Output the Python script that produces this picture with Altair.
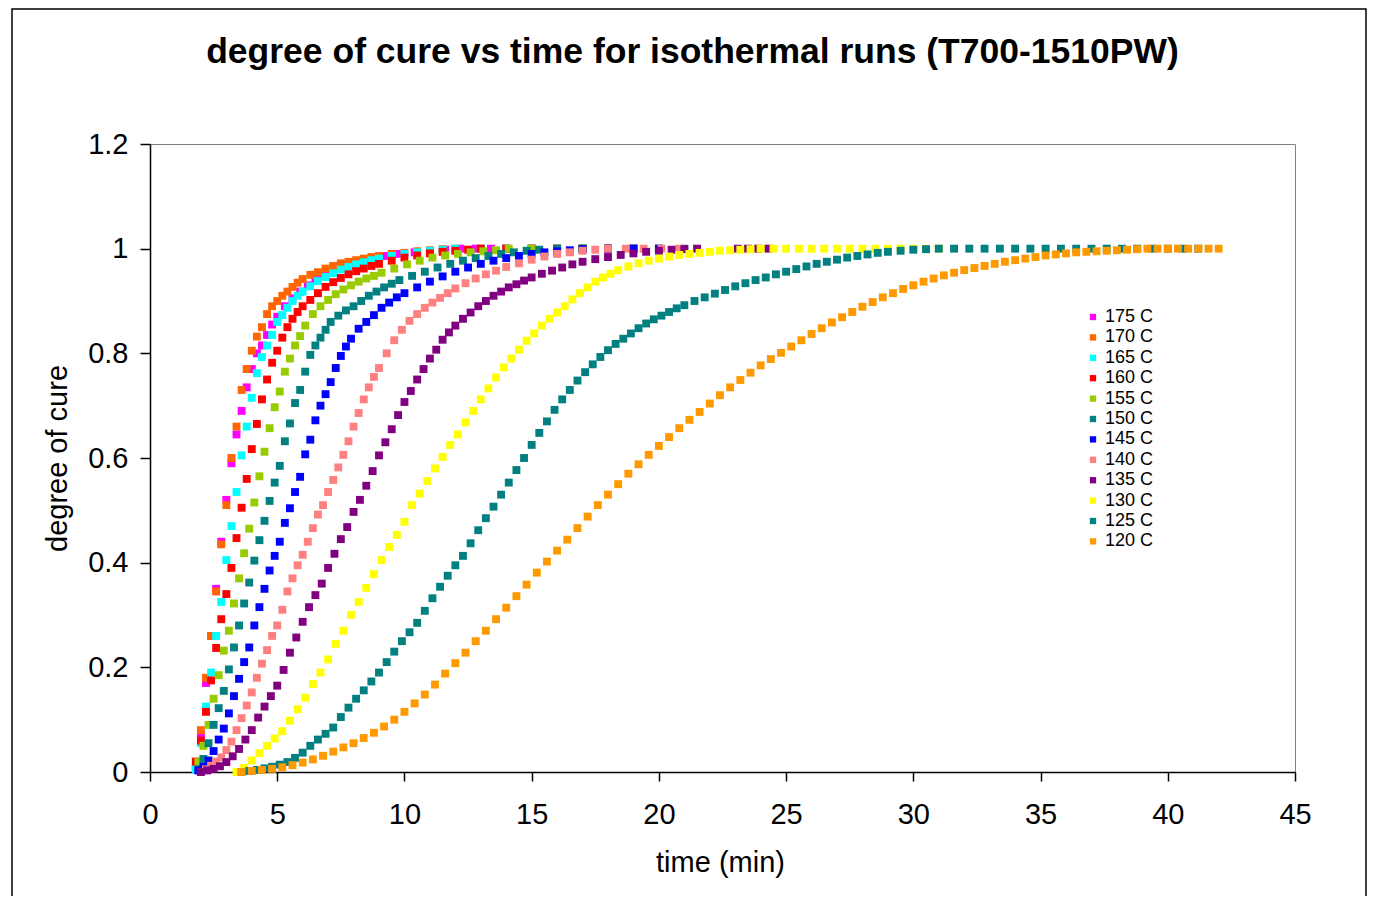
import altair as alt
import pandas as pd

TITLE = "degree of cure vs time for isothermal runs (T700-1510PW)"
X_TITLE = "time (min)"
Y_TITLE = "degree of cure"
X_TICKS = [0, 5, 10, 15, 20, 25, 30, 35, 40, 45]
Y_TICKS = [0, 0.2, 0.4, 0.6, 0.8, 1, 1.2]

SERIES = ["175 C", "170 C", "165 C", "160 C", "155 C", "150 C",
          "145 C", "140 C", "135 C", "130 C", "125 C", "120 C"]
COLORS = ["#FF00FF", "#FF6600", "#00FFFF", "#FF0000", "#99CC00", "#008080",
          "#0000FF", "#FF8080", "#800080", "#FFFF00", "#008080", "#FF9900"]

T175 = [1.8, 2.0, 2.2, 2.4, 2.6, 2.8, 3.0, 3.2, 3.4, 3.6, 3.8, 4.0, 4.2, 4.4, 4.6, 4.8, 5.0,
        5.3, 5.6, 5.9, 6.2, 6.5, 6.8, 7.1, 7.4, 7.7, 8.0,
        8.6, 9.2, 9.8, 10.4, 11.0, 11.6, 12.2, 12.8, 13.4, 14.0,
        15.0, 16.0, 17.0, 18.0]
Y175 = [0.005, 0.07, 0.17, 0.26, 0.35, 0.44, 0.52, 0.59, 0.645, 0.69, 0.735, 0.77, 0.80, 0.815, 0.835, 0.855, 0.87,
        0.89, 0.905, 0.918, 0.93, 0.94, 0.948, 0.955, 0.962, 0.968, 0.972,
        0.98, 0.986, 0.99, 0.993, 0.996, 0.998, 1.0, 1.0, 1.0, 1.0,
        1.0, 1.0, 1.0, 1.0]

T170 = [1.8, 2.0, 2.2, 2.4, 2.6, 2.8, 3.0, 3.2, 3.4, 3.6, 3.8, 4.0, 4.2, 4.4, 4.6, 4.8, 5.0, 5.2, 5.4, 5.6, 5.8, 6.0,
        6.3, 6.6, 6.9, 7.2, 7.5, 7.8, 8.1, 8.4, 8.7, 9.0,
        9.5, 10.0, 10.5, 11.0, 11.5, 12.0,
        13.0, 14.0, 15.0, 16.0, 17.0, 18.0, 19.0]
Y170 = [0.01, 0.08, 0.18, 0.26, 0.345, 0.435, 0.51, 0.6, 0.66, 0.73, 0.77, 0.805, 0.832, 0.85, 0.875, 0.89, 0.9, 0.91, 0.918, 0.927, 0.935, 0.942,
        0.95, 0.955, 0.962, 0.967, 0.972, 0.975, 0.978, 0.981, 0.984, 0.986,
        0.99, 0.992, 0.995, 0.997, 0.999, 1.0,
        1.0, 1.0, 1.0, 1.0, 1.0, 1.0, 1.0]

T165 = [1.8, 2.0, 2.2, 2.4, 2.6, 2.8, 3.0, 3.2, 3.4, 3.6, 3.8, 4.0, 4.2, 4.4, 4.6, 4.8, 5.0, 5.2, 5.4, 5.6, 5.8, 6.0,
        6.3, 6.6, 6.9, 7.2, 7.5, 7.8, 8.1, 8.4, 8.7, 9.0,
        9.5, 10.0, 10.5, 11.0, 11.5, 12.0,
        13.0, 14.0, 15.0, 16.0, 17.0, 18.0]
Y165 = [0.005, 0.055, 0.125, 0.19, 0.26, 0.325, 0.405, 0.47, 0.535, 0.605, 0.66, 0.715, 0.762, 0.793, 0.815, 0.835, 0.86, 0.873, 0.887, 0.9, 0.91, 0.918,
        0.928, 0.938, 0.946, 0.953, 0.96, 0.965, 0.97, 0.974, 0.978, 0.981,
        0.986, 0.99, 0.993, 0.996, 0.998, 1.0,
        1.0, 1.0, 1.0, 1.0, 1.0, 1.0]

T160 = [1.8, 2.0, 2.2, 2.4, 2.6, 2.8, 3.0, 3.2, 3.4, 3.6, 3.8, 4.0, 4.2, 4.4, 4.6, 4.8, 5.0, 5.2, 5.4, 5.6, 5.8, 6.0,
        6.3, 6.6, 6.9, 7.2, 7.5, 7.8, 8.1, 8.4, 8.7, 9.0,
        9.5, 10.0, 10.5, 11.0, 11.5, 12.0, 12.5, 13.0,
        14.0, 15.0, 16.0, 17.0, 18.0, 19.0]
Y160 = [0.02, 0.06, 0.115, 0.175, 0.237, 0.292, 0.34, 0.39, 0.447, 0.505, 0.56, 0.617, 0.665, 0.712, 0.75, 0.782, 0.805, 0.83, 0.85, 0.866, 0.879, 0.89,
        0.902, 0.915, 0.927, 0.936, 0.944, 0.951, 0.957, 0.962, 0.967, 0.971,
        0.977, 0.983, 0.987, 0.991, 0.994, 0.996, 0.998, 1.0,
        1.0, 1.0, 1.0, 1.0, 1.0, 1.0]

T155 = [1.9, 2.1, 2.3, 2.5, 2.7, 2.9, 3.1, 3.3, 3.5, 3.7, 3.9, 4.1, 4.3, 4.5, 4.7, 4.9, 5.1, 5.3, 5.5, 5.7, 5.9, 6.1,
        6.4, 6.7, 7.0, 7.3, 7.6, 7.9, 8.2, 8.5, 8.8, 9.1,
        9.6, 10.1, 10.6, 11.1, 11.6, 12.1, 12.6, 13.1, 13.6, 14.1,
        15.0, 16.0, 17.0, 18.0, 19.0, 20.0]
Y155 = [0.02, 0.05, 0.09, 0.14, 0.185, 0.232, 0.27, 0.322, 0.37, 0.418, 0.465, 0.515, 0.565, 0.612, 0.657, 0.697, 0.727, 0.765, 0.79, 0.815, 0.833, 0.853,
        0.875, 0.89, 0.902, 0.913, 0.922, 0.93, 0.937, 0.943, 0.948, 0.954,
        0.962, 0.97, 0.977, 0.983, 0.987, 0.99, 0.993, 0.995, 0.997, 1.0,
        1.0, 1.0, 1.0, 1.0, 1.0, 1.0]

T150 = [1.9, 2.1, 2.3, 2.5, 2.7, 2.9, 3.1, 3.3, 3.5, 3.7, 3.9, 4.1, 4.3, 4.5, 4.7, 4.9, 5.1, 5.3, 5.5, 5.7, 5.9, 6.1, 6.3, 6.5, 6.7, 6.9, 7.1,
        7.4, 7.7, 8.0, 8.3, 8.6, 8.9, 9.2, 9.5, 9.8,
        10.3, 10.8, 11.3, 11.8, 12.3, 12.8, 13.3, 13.8, 14.3, 14.8, 15.3,
        16.0, 17.0, 18.0, 19.0, 20.0, 21.0]
Y150 = [0.005, 0.025, 0.055, 0.09, 0.122, 0.155, 0.196, 0.238, 0.28, 0.322, 0.362, 0.404, 0.443, 0.48, 0.518, 0.553, 0.585, 0.632, 0.666, 0.705, 0.73, 0.765, 0.797, 0.815, 0.83, 0.845, 0.86,
        0.872, 0.882, 0.89, 0.9, 0.91, 0.918, 0.926, 0.933, 0.94,
        0.948, 0.956, 0.964, 0.971, 0.977, 0.982, 0.986, 0.99, 0.993, 0.996, 0.998,
        1.0, 1.0, 1.0, 1.0, 1.0, 1.0]

T145 = [1.9, 2.1, 2.3, 2.5, 2.7, 2.9, 3.1, 3.3, 3.5, 3.7, 3.9, 4.1, 4.3, 4.5, 4.7, 4.9, 5.1, 5.3, 5.5, 5.7, 5.9, 6.1, 6.3, 6.5, 6.7, 6.9, 7.1, 7.3, 7.5, 7.7, 7.9,
        8.2, 8.5, 8.8, 9.1, 9.4, 9.7, 10.0,
        10.5, 11.0, 11.5, 12.0, 12.5, 13.0, 13.5, 14.0, 14.5, 15.0, 15.5, 16.0, 16.5, 17.0,
        18.0, 19.0, 20.0]
Y145 = [0.003, 0.01, 0.022, 0.04, 0.062, 0.083, 0.112, 0.145, 0.178, 0.21, 0.238, 0.28, 0.315, 0.35, 0.385, 0.413, 0.44, 0.476, 0.504, 0.535, 0.564, 0.607, 0.635, 0.672, 0.7, 0.722, 0.745, 0.772, 0.795, 0.813, 0.828,
        0.847, 0.86, 0.873, 0.887, 0.897, 0.907, 0.915,
        0.926, 0.937, 0.947, 0.956, 0.964, 0.971, 0.977, 0.982, 0.986, 0.99, 0.993, 0.995, 0.997, 0.999,
        1.0, 1.0, 1.0]

T140 = [2.0, 2.2, 2.4, 2.6, 2.8, 3.0, 3.2, 3.4, 3.6, 3.8, 4.0, 4.2, 4.4, 4.6, 4.8, 5.0, 5.2, 5.4, 5.6, 5.8,
        6.0, 6.2, 6.4, 6.6, 6.8, 7.0, 7.2, 7.4, 7.6, 7.8, 8.0, 8.2, 8.4, 8.6, 8.8, 9.0,
        9.3, 9.6, 9.9, 10.2, 10.5, 10.8, 11.1, 11.4, 11.7, 12.0,
        12.4, 12.8, 13.2, 13.6, 14.0,
        14.5, 15.0, 15.5, 16.0, 16.5, 17.0, 17.5, 18.0,
        18.7, 19.4, 20.1, 20.8]
Y140 = [0.0, 0.005, 0.012, 0.02, 0.028, 0.042, 0.058, 0.08, 0.103, 0.127, 0.152, 0.18, 0.207, 0.233, 0.26, 0.28, 0.31, 0.345, 0.37, 0.395,
        0.415, 0.44, 0.466, 0.492, 0.51, 0.535, 0.558, 0.582, 0.606, 0.632, 0.66, 0.686, 0.712, 0.735, 0.755, 0.772,
        0.8, 0.825, 0.845, 0.862, 0.875, 0.887, 0.897, 0.906, 0.915, 0.924,
        0.934, 0.943, 0.951, 0.958, 0.965,
        0.972, 0.979, 0.985, 0.99, 0.993, 0.996, 0.998, 1.0,
        1.0, 1.0, 1.0, 1.0]

T135 = [2.0, 2.25, 2.5, 2.75, 3.0, 3.25, 3.5, 3.75, 4.0, 4.25, 4.5, 4.75, 5.0, 5.25, 5.5, 5.75, 6.0, 6.25, 6.5, 6.75,
        7.0, 7.25, 7.5, 7.75, 8.0, 8.25, 8.5, 8.75, 9.0, 9.25, 9.5, 9.75, 10.0, 10.25, 10.5, 10.75, 11.0, 11.25, 11.5, 11.75, 12.0,
        12.3, 12.6, 12.9, 13.2, 13.5, 13.8, 14.1, 14.4, 14.7, 15.0,
        15.4, 15.8, 16.2, 16.6, 17.0,
        17.5, 18.0, 18.5, 19.0, 19.5, 20.0, 20.5, 21.0, 21.5,
        23.1, 23.5, 23.9, 24.3]
Y135 = [0.0, 0.003, 0.006, 0.011, 0.019, 0.03, 0.044, 0.062, 0.08, 0.104, 0.125, 0.145, 0.165, 0.195, 0.228, 0.257, 0.287, 0.315, 0.338, 0.36,
        0.39, 0.417, 0.445, 0.468, 0.497, 0.52, 0.547, 0.575, 0.605, 0.63, 0.655, 0.682, 0.707, 0.728, 0.75, 0.77, 0.79, 0.807, 0.826, 0.84, 0.853,
        0.866, 0.878, 0.89, 0.9, 0.91, 0.918, 0.926, 0.932, 0.939, 0.945,
        0.952, 0.958, 0.964, 0.97, 0.975,
        0.98, 0.984, 0.988, 0.991, 0.994, 0.996, 0.998, 0.999, 1.0,
        1.0, 1.0, 1.0, 1.0]

T130 = [3.4, 3.7, 4.0, 4.3, 4.6, 4.9, 5.2, 5.5, 5.8, 6.1, 6.4, 6.7, 7.0, 7.3, 7.6, 7.9, 8.2, 8.5, 8.8, 9.1,
        9.4, 9.7, 10.0, 10.3, 10.6, 10.9, 11.2, 11.5, 11.8, 12.1, 12.4, 12.7, 13.0, 13.3, 13.6, 13.9, 14.2, 14.5, 14.8, 15.1,
        15.4, 15.7, 16.0, 16.3, 16.6, 16.9, 17.2, 17.5, 17.8, 18.1, 18.4,
        18.8, 19.2, 19.6, 20.0, 20.4, 20.8, 21.2, 21.6, 22.0, 22.4, 22.8, 23.2, 23.6, 24.0,
        24.5, 25.0, 25.5, 26.0, 26.5, 27.0, 27.5, 28.0, 28.5, 29.0, 29.5, 30.0, 30.5, 31.0]
Y130 = [0.0, 0.008, 0.022, 0.036, 0.05, 0.064, 0.078, 0.098, 0.12, 0.142, 0.168, 0.19, 0.215, 0.245, 0.27, 0.3, 0.325, 0.352, 0.378, 0.405,
        0.43, 0.453, 0.478, 0.51, 0.532, 0.556, 0.58, 0.602, 0.625, 0.645, 0.668, 0.69, 0.712, 0.733, 0.754, 0.773, 0.79, 0.807, 0.824, 0.838,
        0.853, 0.866, 0.878, 0.89, 0.903, 0.915, 0.926, 0.937, 0.945, 0.952, 0.959,
        0.966, 0.972, 0.977, 0.981, 0.985, 0.988, 0.99, 0.992, 0.994, 0.996, 0.997, 0.998, 0.999, 1.0,
        1.0, 1.0, 1.0, 1.0, 1.0, 1.0, 1.0, 1.0, 1.0, 1.0, 1.0, 1.0, 1.0, 1.0]

T125 = [3.6, 3.9, 4.2, 4.5, 4.8, 5.1, 5.4, 5.7, 6.0, 6.3, 6.6, 6.9, 7.2, 7.5, 7.8, 8.1, 8.4, 8.7, 9.0, 9.3,
        9.6, 9.9, 10.2, 10.5, 10.8, 11.1, 11.4, 11.7, 12.0, 12.3, 12.6, 12.9, 13.2, 13.5, 13.8, 14.1, 14.4, 14.7, 15.0, 15.3,
        15.6, 15.9, 16.2, 16.5, 16.8, 17.1, 17.4, 17.7, 18.0, 18.3, 18.6, 18.9, 19.2, 19.5, 19.8, 20.1, 20.4, 20.7, 21.0,
        21.4, 21.8, 22.2, 22.6, 23.0, 23.4, 23.8, 24.2, 24.6, 25.0, 25.4, 25.8, 26.2, 26.6, 27.0, 27.4, 27.8, 28.2, 28.6, 29.0,
        29.5, 30.0, 30.5, 31.0,
        31.6, 32.2, 32.8, 33.4, 34.0, 34.6, 35.2, 35.8, 36.4, 37.0, 37.6, 38.2, 38.8, 39.4, 40.0, 40.6, 41.2]
Y125 = [0.0, 0.002, 0.004, 0.007, 0.01, 0.014, 0.019, 0.027, 0.037, 0.05, 0.062, 0.073, 0.085, 0.105, 0.123, 0.14, 0.156, 0.173, 0.19, 0.21,
        0.23, 0.25, 0.267, 0.285, 0.308, 0.332, 0.354, 0.375, 0.395, 0.413, 0.437, 0.462, 0.485, 0.507, 0.53, 0.553, 0.577, 0.6, 0.625, 0.648,
        0.67, 0.692, 0.712, 0.73, 0.748, 0.764, 0.779, 0.793, 0.806, 0.818, 0.828, 0.838, 0.848, 0.857, 0.865, 0.872, 0.879, 0.886, 0.892,
        0.9, 0.907, 0.914, 0.921, 0.928, 0.934, 0.94, 0.945, 0.951, 0.956, 0.961, 0.966, 0.971, 0.975, 0.979, 0.983, 0.986, 0.989, 0.992, 0.994,
        0.996, 0.998, 0.999, 1.0,
        1.0, 1.0, 1.0, 1.0, 1.0, 1.0, 1.0, 1.0, 1.0, 1.0, 1.0, 1.0, 1.0, 1.0, 1.0, 1.0, 1.0]

T120 = [3.6, 4.0, 4.4, 4.8, 5.2, 5.6, 6.0, 6.4, 6.8, 7.2, 7.6, 8.0, 8.4, 8.8, 9.2, 9.6, 10.0, 10.4, 10.8, 11.2,
        11.6, 12.0, 12.4, 12.8, 13.2, 13.6, 14.0, 14.4, 14.8, 15.2, 15.6, 16.0, 16.4, 16.8, 17.2, 17.6, 18.0, 18.4, 18.8, 19.2,
        19.6, 20.0, 20.4, 20.8, 21.2, 21.6, 22.0, 22.4, 22.8, 23.2, 23.6, 24.0, 24.4, 24.8, 25.2, 25.6, 26.0, 26.4, 26.8, 27.2,
        27.6, 28.0, 28.4, 28.8, 29.2, 29.6, 30.0, 30.4, 30.8, 31.2, 31.6, 32.0, 32.4, 32.8, 33.2, 33.6, 34.0, 34.4, 34.8, 35.2,
        35.6, 36.0, 36.4, 36.8, 37.2, 37.6, 38.0, 38.4, 38.8, 39.2, 39.6, 40.0, 40.4, 40.8, 41.2, 41.6, 42.0]
Y120 = [0.0, 0.002, 0.004, 0.006, 0.009, 0.013, 0.018, 0.024, 0.031, 0.039, 0.047, 0.055, 0.065, 0.075, 0.087, 0.1, 0.115, 0.131, 0.148, 0.167,
        0.188, 0.208, 0.228, 0.25, 0.27, 0.292, 0.314, 0.336, 0.358, 0.381, 0.402, 0.423, 0.444, 0.466, 0.488, 0.51, 0.53, 0.55, 0.57, 0.588,
        0.606, 0.623, 0.64, 0.657, 0.673, 0.688, 0.704, 0.72, 0.735, 0.749, 0.763, 0.777, 0.789, 0.801, 0.813, 0.825, 0.837, 0.848, 0.859, 0.869,
        0.879, 0.889, 0.898, 0.907, 0.915, 0.923, 0.93, 0.937, 0.943, 0.949, 0.954, 0.959, 0.963, 0.967, 0.971, 0.975, 0.978, 0.981, 0.984, 0.987,
        0.989, 0.991, 0.993, 0.994, 0.995, 0.996, 0.997, 0.998, 0.999, 1.0, 1.0, 1.0, 1.0, 1.0, 1.0, 1.0, 1.0]

TIMES = [T175, T170, T165, T160, T155, T150, T145, T140, T135, T130, T125, T120]
VALUES = [Y175, Y170, Y165, Y160, Y155, Y150, Y145, Y140, Y135, Y130, Y125, Y120]

rows = []
for name, ts, vs in zip(SERIES, TIMES, VALUES):
    assert len(ts) == len(vs), (name, len(ts), len(vs))
    for t, v in zip(ts, vs):
        rows.append({"series": name, "t": t, "v": v})
df = pd.DataFrame(rows)

FONT = "Liberation Sans"

points = alt.Chart(df).mark_point(filled=True, shape="square", size=62, opacity=1).encode(
    x=alt.X("t:Q", scale=alt.Scale(domain=[0, 45], nice=False, zero=False),
            axis=alt.Axis(values=X_TICKS, title=X_TITLE, grid=False, tickSize=9,
                          labelPadding=19, labelFlush=False, titleX=570, titleY=90,
                          titleBaseline="middle", titleAlign="center")),
    y=alt.Y("v:Q", scale=alt.Scale(domain=[0, 1.2], nice=False),
            axis=alt.Axis(values=Y_TICKS, title=Y_TITLE, grid=False, tickSize=10, format="~g",
                          labelPadding=12, labelFlush=False, titleX=-93, titleY=314, titleAngle=270,
                          titleBaseline="middle", titleAlign="center")),
    color=alt.Color("series:N", scale=alt.Scale(domain=SERIES, range=COLORS),
                    legend=alt.Legend(title=None, orient="none", legendX=934, legendY=164,
                                      symbolType="square", symbolSize=40, labelFontSize=18,
                                      labelFont=FONT, labelColor="black", rowPadding=2.4,
                                      labelOffset=3, padding=0, symbolStrokeWidth=0)),
)

frame = alt.Chart(alt.Data(values=[{}])).mark_rect(
    fillOpacity=0, stroke="black", strokeWidth=1.5
).encode(x=alt.value(-138), x2=alt.value(1216), y=alt.value(-135), y2=alt.value(800))

chart = alt.layer(frame, points).properties(
    width=1145, height=628,
    autosize=alt.AutoSizeParams(type="none"),
    padding={"left": 142, "top": 136, "right": 72, "bottom": 124},
    title=alt.TitleParams(TITLE, font=FONT, fontSize=35.5, fontWeight="bold", color="black",
                          anchor="middle", dx=-30, offset=-90, baseline="alphabetic"),
).configure_view(
    stroke="#808080", strokeWidth=1
).configure_axis(
    domainColor="black", tickColor="black", domainWidth=1.5, tickWidth=1.5,
    labelFont=FONT, labelFontSize=29, labelColor="black",
    titleFont=FONT, titleFontSize=29, titleFontWeight="normal", titleColor="black",
)

chart.save("out.html", embed_options={"renderer": "svg", "actions": False})
